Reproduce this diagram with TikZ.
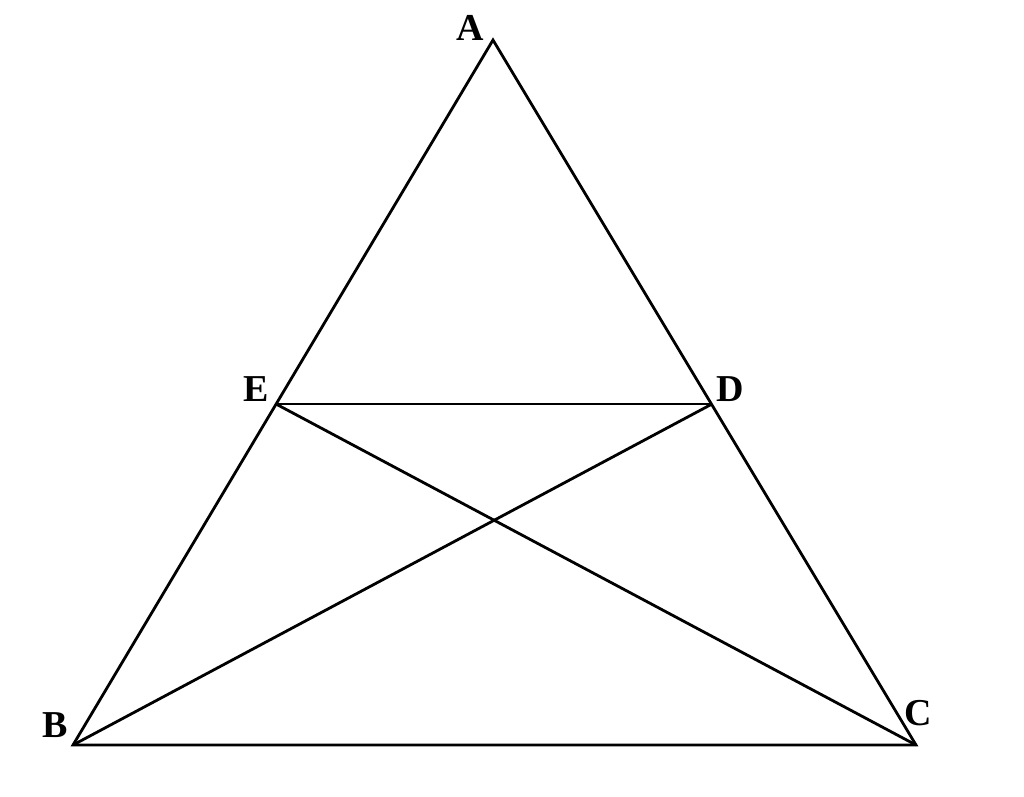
\documentclass[tikz,border=0pt]{standalone}
\usepackage{fontspec}
\setmainfont{Liberation Serif}
\begin{document}
\begin{tikzpicture}[x=1pt,y=-1pt,
  seg/.style={line width=2.8pt,line join=miter},
  lbl/.style={inner sep=0pt,font=\fontsize{38}{38}\selectfont\bfseries}]
\useasboundingbox[fill=white] (0,0) rectangle (1024,796);
\coordinate (A) at (493,40);
\coordinate (B) at (73,745);
\coordinate (C) at (916,745);
\coordinate (E) at (276,404);
\coordinate (D) at (712,404);
\draw[seg] (A) -- (B) -- (C) -- cycle;
\draw[seg] (E) -- (D);
\draw[seg] (E) -- (C);
\draw[seg] (D) -- (B);
\node[lbl] (lA) at (470,28) {A};
\node[lbl] (lB) at (55,725) {B};
\node[lbl] (lC) at (918,713) {C};
\node[lbl] (lD) at (730,389) {D};
\node[lbl] (lE) at (256,389) {E};
\end{tikzpicture}
\end{document}
